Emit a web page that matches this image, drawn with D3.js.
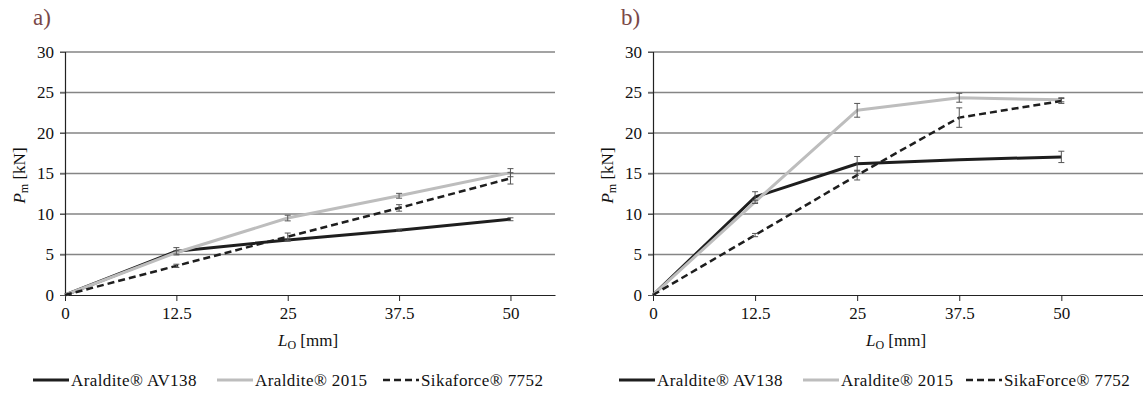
<!DOCTYPE html>
<html>
<head>
<meta charset="utf-8">
<script src="https://cdn.jsdelivr.net/npm/d3@7"></script>
<style>
  html, body { margin: 0; padding: 0; background: #fff; }
  svg { display: block; }
  svg text { font-family: "Liberation Serif", "DejaVu Serif", serif !important; }
</style>
</head>
<body>
<svg id="chart" width="1143" height="394"></svg>
<script>
// Overlap length L_O [mm] shared by both panels
const overlapLengths = [0, 12.5, 25, 37.5, 50];
const yTicks = [0, 5, 10, 15, 20, 25, 30];

// Panel a) mean failure load P_m [kN] and error bar half-widths
const aAV138 = [0, 5.4, 6.8, 8.0, 9.35];
const aAV138Err = [0, 0.45, 0.15, 0.12, 0.18];
const a2015 = [0, 5.25, 9.5, 12.25, 15.1];
const a2015Err = [0, 0.2, 0.35, 0.3, 0.5];
const aSika = [0, 3.6, 7.2, 10.75, 14.4];
const aSikaErr = [0, 0.2, 0.45, 0.4, 0.7];

// Panel b) mean failure load P_m [kN] and error bar half-widths
const bAV138 = [0, 12.1, 16.2, 16.7, 17.05];
const bAV138Err = [0, 0.65, 0.9, 0, 0.7];
const b2015 = [0, 11.5, 22.8, 24.35, 24.1];
const b2015Err = [0, 0.2, 0.85, 0.55, 0.25];
const bSika = [0, 7.4, 14.8, 21.9, 23.95];
const bSikaErr = [0, 0.2, 0.6, 1.2, 0.3];

const legendA = ["Araldite® AV138", "Araldite® 2015", "Sikaforce® 7752"];
const legendB = ["Araldite® AV138", "Araldite® 2015", "SikaForce® 7752"];

const styles = [
  { stroke: "#1e1e1e", width: 3, dash: null },
  { stroke: "#bdbdbd", width: 3, dash: null },
  { stroke: "#1e1e1e", width: 2.5, dash: "7,4" }
];

const panels = [
  {
    tag: "a)", left: 65, right: 555, xMax: 55,
    series: [[aAV138, aAV138Err], [a2015, a2015Err], [aSika, aSikaErr]],
    names: legendA, legendX: [33, 217, 383]
  },
  {
    tag: "b)", left: 653, right: 1143, xMax: 60,
    series: [[bAV138, bAV138Err], [b2015, b2015Err], [bSika, bSikaErr]],
    names: legendB, legendX: [619, 803, 966]
  }
];

const plotTop = 52, plotBottom = 295;
const fontSize = 17;
const svg = d3.select("#chart");

panels.forEach(p => {
  const x = d3.scaleLinear().domain([0, p.xMax]).range([p.left, p.right]);
  const y = d3.scaleLinear().domain([0, 30]).range([plotBottom, plotTop]);
  const g = svg.append("g");

  // panel tag
  g.append("text").attr("x", p.left - 32).attr("y", 25)
    .attr("font-size", 23).attr("fill", "#7a4848").text(p.tag);

  // horizontal gridlines with outer tick stubs
  g.append("g").selectAll("line").data(yTicks.filter(t => t > 0)).join("line")
    .attr("x1", p.left - 5).attr("x2", p.right)
    .attr("y1", d => y(d)).attr("y2", d => y(d))
    .attr("stroke", "#858585").attr("stroke-width", 1.3);

  // y axis
  const yAxis = d3.axisLeft(y).tickValues(yTicks).tickSize(5).tickPadding(6);
  const ya = g.append("g").attr("transform", `translate(${p.left},0)`).call(yAxis);
  ya.select(".domain").attr("stroke", "#222").attr("stroke-width", 1.2);
  ya.selectAll(".tick line").attr("stroke", "#555");
  ya.selectAll("text").attr("font-size", fontSize).attr("fill", "#111");

  // x axis
  const xAxis = d3.axisBottom(x).tickValues(overlapLengths).tickSize(6).tickPadding(6)
    .tickSizeOuter(0).tickFormat(d => String(d));
  const xa = g.append("g").attr("transform", `translate(0,${plotBottom})`).call(xAxis);
  xa.select(".domain").attr("stroke", "#222").attr("stroke-width", 1.2);
  xa.selectAll(".tick line").attr("stroke", "#222");
  xa.selectAll("text").attr("font-size", fontSize).attr("fill", "#111");

  // axis titles
  const yt = g.append("text")
    .attr("transform", `translate(${p.left - 40},${(plotTop + plotBottom) / 2 + 2}) rotate(-90)`)
    .attr("text-anchor", "middle").attr("font-size", fontSize).attr("fill", "#111");
  yt.append("tspan").attr("font-style", "italic").text("P");
  yt.append("tspan").attr("font-size", 12).attr("dy", 3).text("m");
  yt.append("tspan").attr("dy", -3).text(" [kN]");

  const xt = g.append("text")
    .attr("x", (p.left + p.right) / 2 - 2).attr("y", 346)
    .attr("text-anchor", "middle").attr("font-size", fontSize).attr("fill", "#111");
  xt.append("tspan").attr("font-style", "italic").text("L");
  xt.append("tspan").attr("font-size", 12).attr("dy", 3).text("O");
  xt.append("tspan").attr("dy", -3).text(" [mm]");

  const line = d3.line().x(d => x(d[0])).y(d => y(d[1]));

  p.series.forEach(([vals, errs], i) => {
    const pts = overlapLengths.map((l, k) => [l, vals[k], errs[k]]);
    const st = styles[i];
    g.append("path").datum(pts).attr("d", line)
      .attr("fill", "none").attr("stroke", st.stroke).attr("stroke-width", st.width)
      .attr("stroke-dasharray", st.dash).attr("stroke-linejoin", "round");

    // error bars
    const eb = g.append("g").attr("stroke", "#555").attr("stroke-width", 1);
    pts.filter(d => d[2] > 0).forEach(d => {
      const cx = x(d[0]), y0 = y(d[1] - d[2]), y1 = y(d[1] + d[2]);
      eb.append("line").attr("x1", cx).attr("x2", cx).attr("y1", y0).attr("y2", y1);
      eb.append("line").attr("x1", cx - 3).attr("x2", cx + 3).attr("y1", y0).attr("y2", y0);
      eb.append("line").attr("x1", cx - 3).attr("x2", cx + 3).attr("y1", y1).attr("y2", y1);
    });
  });

  // legend
  p.names.forEach((name, i) => {
    const st = styles[i];
    const lx = p.legendX[i];
    g.append("line").attr("x1", lx).attr("x2", lx + 36).attr("y1", 380).attr("y2", 380)
      .attr("stroke", st.stroke).attr("stroke-width", st.width)
      .attr("stroke-dasharray", st.dash);
    g.append("text").attr("x", lx + 38).attr("y", 386).attr("font-size", fontSize)
      .attr("letter-spacing", 0.4).attr("fill", "#111").text(name);
  });
});
</script>
</body>
</html>
